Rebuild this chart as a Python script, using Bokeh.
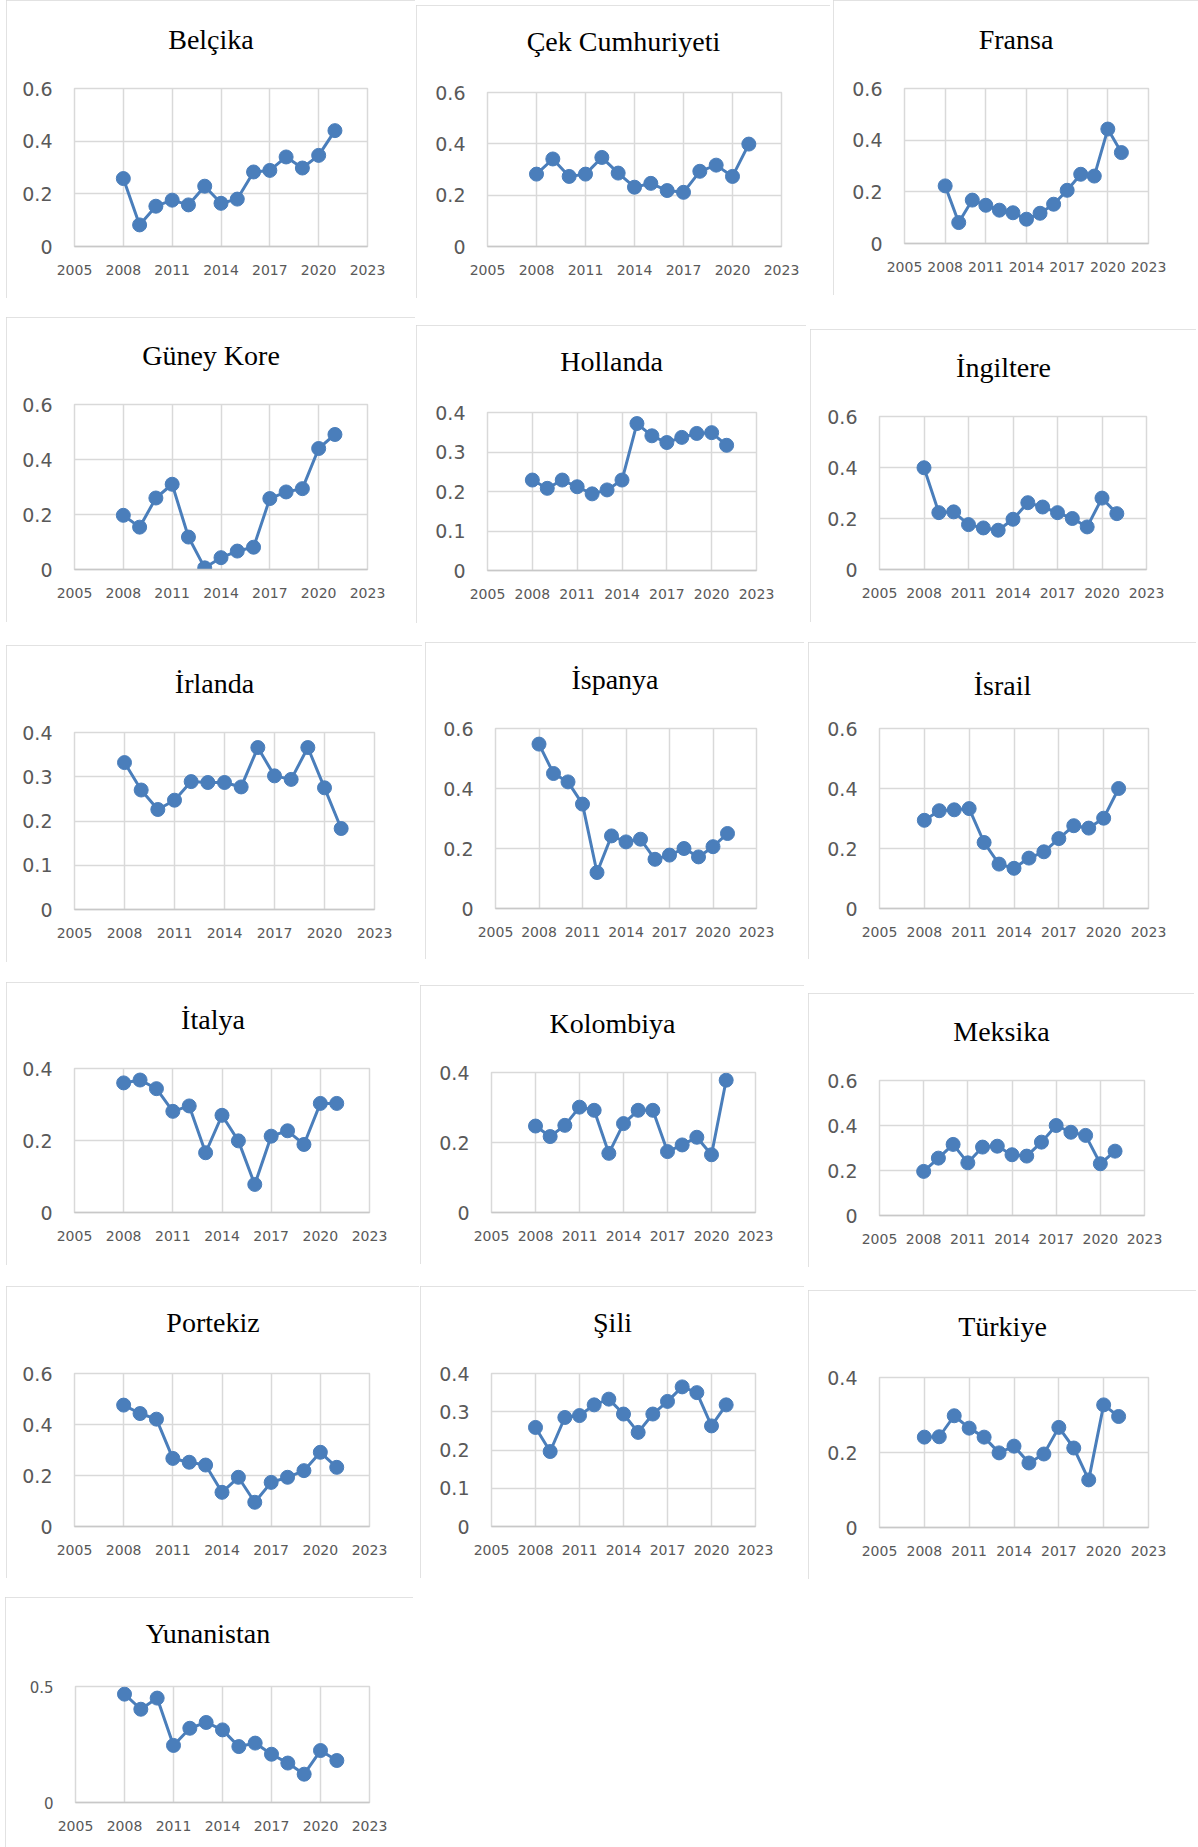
from bokeh.plotting import figure
from bokeh.layouts import row, column
from bokeh.models import Spacer, FixedTicker, Range1d, LinearAxis
from bokeh.embed import file_html
from bokeh.resources import INLINE

# ---------------- data ----------------
years = [2008, 2009, 2010, 2011, 2012, 2013, 2014, 2015, 2016, 2017, 2018, 2019, 2020, 2021]
x_ticks = [2005, 2008, 2011, 2014, 2017, 2020, 2023]

belcika = [0.258, 0.082, 0.153, 0.176, 0.158, 0.229, 0.164, 0.180, 0.283, 0.289, 0.340, 0.298, 0.346, 0.440]
cek = [0.282, 0.341, 0.273, 0.282, 0.347, 0.286, 0.231, 0.246, 0.218, 0.211, 0.293, 0.317, 0.273, 0.399]
fransa = [0.223, 0.081, 0.168, 0.148, 0.129, 0.119, 0.094, 0.117, 0.152, 0.206, 0.268, 0.261, 0.443, 0.352]
guney_kore = [0.197, 0.154, 0.260, 0.310, 0.118, 0.006, 0.043, 0.067, 0.081, 0.258, 0.282, 0.294, 0.440, 0.491]
hollanda = [0.229, 0.208, 0.229, 0.212, 0.194, 0.204, 0.229, 0.372, 0.341, 0.324, 0.337, 0.347, 0.349, 0.317]
ingiltere = [0.399, 0.223, 0.226, 0.176, 0.163, 0.154, 0.197, 0.262, 0.245, 0.223, 0.200, 0.167, 0.280, 0.219]
irlanda = [0.332, 0.270, 0.226, 0.247, 0.289, 0.287, 0.287, 0.277, 0.366, 0.302, 0.294, 0.366, 0.275, 0.183]
ispanya = [0.548, 0.450, 0.422, 0.348, 0.120, 0.242, 0.222, 0.231, 0.164, 0.178, 0.200, 0.172, 0.206, 0.250]
israil = [0.294, 0.326, 0.329, 0.333, 0.220, 0.148, 0.134, 0.168, 0.189, 0.233, 0.276, 0.268, 0.301, 0.400]
italya = [0.360, 0.368, 0.344, 0.281, 0.296, 0.166, 0.270, 0.199, 0.078, 0.212, 0.227, 0.189, 0.303, 0.303]
kolombiya = [0.247, 0.217, 0.249, 0.301, 0.292, 0.169, 0.254, 0.292, 0.292, 0.174, 0.193, 0.215, 0.165, 0.378]
meksika = [0.196, 0.255, 0.316, 0.234, 0.304, 0.308, 0.270, 0.264, 0.326, 0.400, 0.370, 0.356, 0.230, 0.286]
portekiz = [0.476, 0.443, 0.421, 0.267, 0.252, 0.241, 0.134, 0.193, 0.095, 0.173, 0.193, 0.219, 0.291, 0.232]
sili = [0.259, 0.196, 0.285, 0.290, 0.318, 0.333, 0.294, 0.246, 0.294, 0.327, 0.365, 0.350, 0.263, 0.318]
turkiye = [0.241, 0.242, 0.298, 0.265, 0.241, 0.199, 0.217, 0.172, 0.196, 0.267, 0.212, 0.127, 0.327, 0.296]
yunanistan = [0.467, 0.402, 0.450, 0.246, 0.320, 0.345, 0.313, 0.241, 0.256, 0.208, 0.170, 0.122, 0.224, 0.181]

yticks_06 = [0, 0.2, 0.4, 0.6]
ylabels_06 = ["0", "0.2", "0.4", "0.6"]
yticks_04a = [0, 0.1, 0.2, 0.3, 0.4]
ylabels_04a = ["0", "0.1", "0.2", "0.3", "0.4"]
yticks_04b = [0, 0.2, 0.4]
ylabels_04b = ["0", "0.2", "0.4"]
yticks_05 = [0, 0.5]
ylabels_05 = ["0", "0.5"]

# ---------------- layout (reference pixel geometry) ----------------
# name, values, (ticks, labels), box (x0,y0,x1,y1), frame (l,t,r,b), title centre y, y-label size
PANELS = [
    [("Belçika", belcika, (yticks_06, ylabels_06), (6, 0, 415, 298), (74, 88, 367, 247), 40, 19),
     ("Çek Cumhuriyeti", cek, (yticks_06, ylabels_06), (416, 5, 830, 298), (487, 92, 781, 246), 43, 19),
     ("Fransa", fransa, (yticks_06, ylabels_06), (833, 0, 1198, 295), (904, 88, 1148, 243), 40, 19)],
    [("Güney Kore", guney_kore, (yticks_06, ylabels_06), (6, 317, 415, 622), (74, 404, 367, 569), 357, 19),
     ("Hollanda", hollanda, (yticks_04a, ylabels_04a), (416, 325, 806, 623), (487, 412, 756, 570), 363, 19),
     ("İngiltere", ingiltere, (yticks_06, ylabels_06), (810, 329, 1196, 622), (879, 416, 1146, 569), 368, 19)],
    [("İrlanda", irlanda, (yticks_04a, ylabels_04a), (6, 645, 422, 962), (74, 732, 374, 909), 685, 19),
     ("İspanya", ispanya, (yticks_06, ylabels_06), (425, 642, 804, 959), (495, 728, 756, 908), 680, 19),
     ("İsrail", israil, (yticks_06, ylabels_06), (808, 642, 1196, 959), (879, 728, 1148, 908), 687, 19)],
    [("İtalya", italya, (yticks_04b, ylabels_04b), (6, 982, 419, 1265), (74, 1068, 369, 1212), 1020, 19),
     ("Kolombiya", kolombiya, (yticks_04b, ylabels_04b), (420, 985, 804, 1264), (491, 1072, 755, 1212), 1025, 19),
     ("Meksika", meksika, (yticks_06, ylabels_06), (808, 993, 1194, 1267), (879, 1080, 1144, 1215), 1032, 19)],
    [("Portekiz", portekiz, (yticks_06, ylabels_06), (6, 1286, 419, 1578), (74, 1373, 369, 1526), 1323, 19),
     ("Şili", sili, (yticks_04a, ylabels_04a), (420, 1286, 804, 1578), (491, 1373, 755, 1526), 1323, 19),
     ("Türkiye", turkiye, (yticks_04b, ylabels_04b), (808, 1290, 1196, 1579), (879, 1377, 1148, 1527), 1328, 19)],
    [("Yunanistan", yunanistan, (yticks_05, ylabels_05), (5, 1597, 413, 1847), (75, 1686, 369, 1802), 1635, 15)],
]

BLUE = "#4a7ebb"
GRID = "#d9d9d9"
LABEL = "#595959"
MINX, MAXX, MINY, MAXY = 0, 1198, 0, 1847
TITLE_PX = 28

# Times / Liberation Serif advance widths (per 1000 em) to centre titles on the panel box
SERIF_W = {" ": 250, "B": 667, "C": 667, "Ç": 667, "F": 556, "G": 722, "H": 722, "I": 333, "İ": 333,
           "K": 722, "M": 889, "P": 556, "Ş": 556, "T": 611, "Y": 722,
           "a": 444, "b": 500, "ç": 444, "d": 500, "e": 444, "g": 500, "h": 500, "i": 278, "k": 500,
           "l": 278, "m": 778, "n": 500, "o": 500, "p": 500, "r": 333, "s": 389, "t": 278, "u": 500,
           "ü": 500, "y": 500, "z": 444}


def text_width(s):
    return sum(SERIF_W.get(ch, 500) for ch in s) * TITLE_PX / 1000.0


def make_panel(name, vals, ticklab, box, frame, ty, ysize):
    ticks, labels = ticklab
    bx0, by0 = max(MINX, box[0]), max(MINY, box[1])
    bx1, by1 = min(MAXX, box[2]), min(MAXY, box[3])
    fl, ft, fr, fb = frame
    w, h = bx1 - bx0, by1 - by0
    p = figure(width=w, height=h, x_range=Range1d(2005, 2023), y_range=Range1d(0, ticks[-1]),
               output_backend="svg", toolbar_location=None, title=name,
               min_border_left=fl - bx0, min_border_right=bx1 - fr,
               min_border_top=ft - by0, min_border_bottom=by1 - fb)

    # invisible spacer axis between the frame and the title (one hidden tick, empty label)
    gap = max(0, round((ft - ty) - 13.5))
    spacer_axis = LinearAxis(ticker=FixedTicker(ticks=[x_ticks[0]]), major_tick_out=gap, major_tick_in=0,
                             major_tick_line_color=None, minor_tick_line_color=None,
                             axis_line_color=None, major_label_standoff=0,
                             major_label_overrides={x_ticks[0]: ""})
    p.add_layout(spacer_axis, "above")

    # title, centred on the whole panel box
    p.title.align = "left"
    p.title.offset = (box[0] + box[2]) / 2 - fl - text_width(name) / 2
    p.title.standoff = 0
    p.title.vertical_align = "bottom"
    p.title.text_font = "Liberation Serif"
    p.title.text_font_size = f"{TITLE_PX}px"
    p.title.text_font_style = "normal"
    p.title.text_color = "#000000"

    xa = p.below[0]
    xa.ticker = FixedTicker(ticks=x_ticks)
    xa.major_tick_line_color = None
    xa.minor_tick_line_color = None
    xa.axis_line_color = "#c8c8c8"
    xa.axis_line_width = 1.5
    xa.major_label_text_font = "DejaVu Sans"
    xa.major_label_text_font_size = "14px"
    xa.major_label_text_color = LABEL
    xa.major_label_standoff = 12

    ya = p.left[0]
    ya.ticker = FixedTicker(ticks=ticks)
    ya.major_label_overrides = {t: l for t, l in zip(ticks, labels)}
    ya.major_tick_line_color = None
    ya.minor_tick_line_color = None
    ya.axis_line_color = None
    ya.major_label_text_font = "DejaVu Sans"
    ya.major_label_text_font_size = f"{ysize}px"
    ya.major_label_text_color = LABEL
    ya.major_label_standoff = 16

    p.xgrid.ticker = FixedTicker(ticks=x_ticks)
    p.ygrid.ticker = FixedTicker(ticks=ticks)
    p.grid.grid_line_color = GRID
    p.grid.grid_line_width = 1.5
    p.outline_line_color = GRID
    p.outline_line_width = 1.5
    p.background_fill_color = "#ffffff"
    p.border_fill_color = "#ffffff"

    p.line(years, vals, line_color=BLUE, line_width=3)
    p.scatter(years, vals, size=14, fill_color=BLUE, line_color=BLUE)

    p.styles = {"outline": "2px solid #d9d9d9", "outline-offset": "-2px"}
    return p, bx0, by0, bx1, by1


rows = []
y = MINY
for group in PANELS:
    built = [make_panel(*spec) for spec in group]
    top = min(b[2] for b in built)
    bottom = max(b[4] for b in built)
    children = []
    x = MINX
    for p, bx0, by0, bx1, by1 in built:
        if bx0 > x:
            children.append(Spacer(width=bx0 - x, height=1))
        if by0 > top:
            children.append(column(Spacer(width=bx1 - bx0, height=by0 - top), p))
        else:
            children.append(p)
        x = bx1
    if top > y:
        rows.append(Spacer(width=1, height=top - y))
    rows.append(row(children))
    y = bottom

page = column(rows)
open("out.html", "w").write(file_html(page, INLINE))
